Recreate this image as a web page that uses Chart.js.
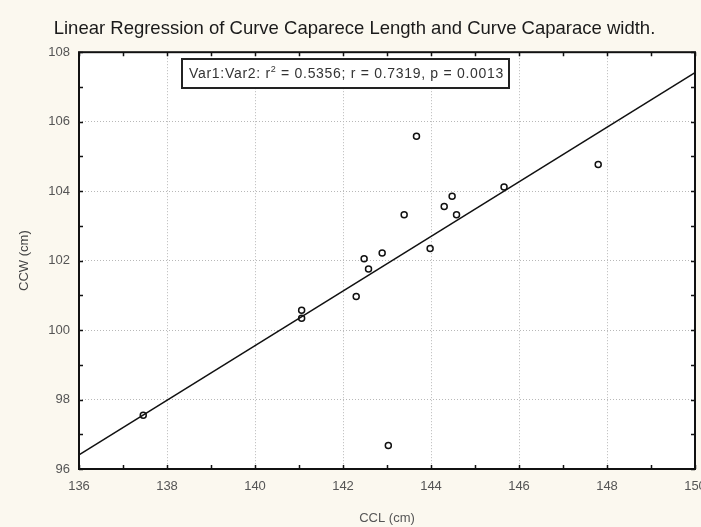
<!DOCTYPE html>
<html lang="en">
<head>
<meta charset="UTF-8">
<title>Linear Regression CCL / CCW</title>
<script src="https://cdn.jsdelivr.net/npm/chart.js"></script>
<style>
  html, body { margin: 0; padding: 0; background: #fbf8ef; }
  #wrap { width: 701px; height: 527px; }
</style>
</head>
<body>
<div id="wrap"><canvas id="myChart" width="701" height="527"></canvas></div>
<script>
// curved carapace length (x) and width (y)
const ccl = [137.46, 141.06, 141.06, 142.30, 142.48, 142.58, 142.89, 143.03,
             143.39, 143.67, 143.98, 144.30, 144.48, 144.58, 145.66, 147.80];
const ccw = [97.55, 100.57, 100.34, 100.97, 102.05, 101.76, 102.22, 96.68,
             103.32, 105.58, 102.35, 103.56, 103.85, 103.32, 104.12, 104.77];

// regression line ends
const fitX = [136, 150];
const fitY = [96.41, 107.41];

const xTicks = [136, 138, 140, 142, 144, 146, 148, 150];
const yTicks = [96, 98, 100, 102, 104, 106, 108];

const titleText = 'Linear Regression of Curve Caparece Length and Curve Caparace width.';
const statParts = ['Var1:Var2: r', '2', ' = 0.5356; r = 0.7319, p = 0.0013'];

const FONT = '"Liberation Sans", Arial, sans-serif';

// white plot area, box frame with inner ticks, stats box
const framePlugin = {
    id: 'frame',
    beforeDraw(chart) {
        const { ctx, chartArea: a } = chart;
        ctx.save();
        ctx.fillStyle = '#fbf8ef';
        ctx.fillRect(0, 0, chart.width, chart.height);
        ctx.fillStyle = '#ffffff';
        ctx.fillRect(a.left, a.top, a.right - a.left, a.bottom - a.top);
        ctx.restore();
    },
    afterDraw(chart) {
        const { ctx, chartArea: a, scales } = chart;
        const xs = scales.x, ys = scales.y;
        ctx.save();
        ctx.strokeStyle = '#111';
        ctx.lineWidth = 2;
        ctx.strokeRect(a.left, a.top, a.right - a.left, a.bottom - a.top);

        ctx.lineWidth = 1.5;
        ctx.beginPath();
        for (let v = xs.min; v <= xs.max; v++) {
            const px = Math.round(xs.getPixelForValue(v)) + 0.5;
            ctx.moveTo(px, a.bottom); ctx.lineTo(px, a.bottom - 4);
            ctx.moveTo(px, a.top); ctx.lineTo(px, a.top + 4);
        }
        for (let v = ys.min; v <= ys.max; v++) {
            const py = Math.round(ys.getPixelForValue(v)) + 0.5;
            ctx.moveTo(a.left, py); ctx.lineTo(a.left + 4, py);
            ctx.moveTo(a.right, py); ctx.lineTo(a.right - 4, py);
        }
        ctx.stroke();

        // stats box
        const bx = 182, by = 59, bw = 327, bh = 29;
        ctx.fillStyle = '#ffffff';
        ctx.fillRect(bx, by, bw, bh);
        ctx.lineWidth = 2;
        ctx.strokeStyle = '#222';
        ctx.strokeRect(bx, by, bw, bh);

        ctx.fillStyle = '#333';
        ctx.textBaseline = 'middle';
        ctx.letterSpacing = '0.7px';
        ctx.font = '14px ' + FONT;
        let tx = bx + 7;
        const ty = by + bh / 2 + 1;
        ctx.fillText(statParts[0], tx, ty);
        tx += ctx.measureText(statParts[0]).width;
        ctx.font = '9px ' + FONT;
        ctx.fillText(statParts[1], tx, ty - 5);
        tx += ctx.measureText(statParts[1]).width;
        ctx.font = '14px ' + FONT;
        ctx.fillText(statParts[2], tx, ty);
        ctx.restore();
    }
};

const ctx = document.getElementById('myChart').getContext('2d');
const chart = new Chart(ctx, {
    type: 'scatter',
    data: {
        datasets: [{
            label: 'CCL vs CCW',
            data: ccl.map((x, i) => ({ x: x, y: ccw[i] })),
            pointStyle: 'circle',
            pointRadius: 3,
            borderWidth: 1.5,
            borderColor: '#111',
            backgroundColor: 'rgba(255,255,255,0)',
            order: 1
        }, {
            type: 'line',
            label: 'Fit',
            data: fitX.map((x, i) => ({ x: x, y: fitY[i] })),
            borderColor: '#111',
            borderWidth: 1.5,
            pointRadius: 0,
            fill: false,
            order: 2
        }]
    },
    options: {
        responsive: false,
        animation: false,
        layout: { padding: { left: 14, right: 6, top: 0, bottom: 0 } },
        plugins: {
            legend: { display: false },
            tooltip: { enabled: false },
            title: {
                display: true,
                text: titleText,
                color: '#1a1a1a',
                font: { family: FONT, size: 18.5, weight: 'normal' },
                padding: { top: 18, bottom: 12 }
            }
        },
        scales: {
            x: {
                type: 'linear',
                min: 136,
                max: 150,
                afterBuildTicks: axis => { axis.ticks = xTicks.map(v => ({ value: v })); },
                afterFit: axis => {
                    axis.height = 58;
                    axis.paddingLeft = 0;
                    axis.paddingRight = 0;
                },
                ticks: {
                    color: '#555',
                    font: { family: FONT, size: 13 },
                    padding: 10,
                    maxRotation: 0,
                    callback: v => String(v)
                },
                grid: { color: '#b8b8b8', lineWidth: 1, drawTicks: false, borderDash: [1, 2] },
                border: { display: false, dash: [1, 2] },
                title: {
                    display: true,
                    text: 'CCL (cm)',
                    color: '#555',
                    font: { family: FONT, size: 13 },
                    padding: { top: 0, bottom: 1 }
                }
            },
            y: {
                type: 'linear',
                min: 96,
                max: 108,
                afterBuildTicks: axis => { axis.ticks = yTicks.map(v => ({ value: v })); },
                afterFit: axis => { axis.width = 65; },
                ticks: {
                    color: '#555',
                    font: { family: FONT, size: 13 },
                    padding: 9,
                    callback: v => String(v)
                },
                grid: { color: '#b8b8b8', lineWidth: 1, drawTicks: false, borderDash: [1, 2] },
                border: { display: false, dash: [1, 2] },
                title: {
                    display: true,
                    text: 'CCW (cm)',
                    color: '#444',
                    font: { family: FONT, size: 13 },
                    padding: { top: 3, bottom: 0 }
                }
            }
        }
    },
    plugins: [framePlugin]
});
</script>
</body>
</html>
